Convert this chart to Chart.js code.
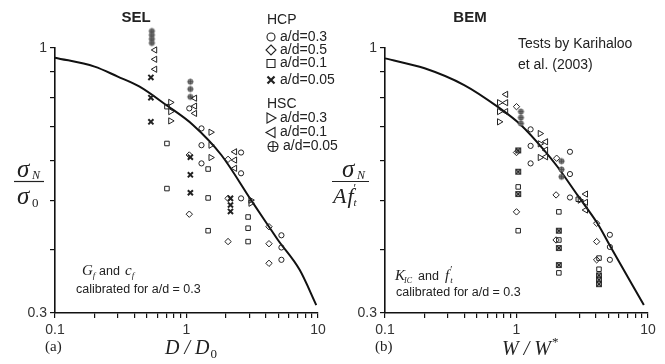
<!DOCTYPE html>
<html>
<head>
<meta charset="utf-8">
<script src="https://cdn.jsdelivr.net/npm/chart.js@4.4.1/dist/chart.umd.min.js"></script>
<style>
  html, body { margin: 0; padding: 0; background: #fff; }
  #wrap { position: relative; width: 665px; height: 364px; overflow: hidden; }
  canvas { position: absolute; top: 0; }
</style>
</head>
<body>
<div id="wrap">
  <canvas id="sel" width="345" height="364" style="left:0px"></canvas>
  <canvas id="bem" width="333" height="364" style="left:332px"></canvas>
</div>
<script>
// axis ticks (shared by both panels)
const xTickValues = [0.1, 0.2, 0.3, 0.4, 0.5, 0.6, 0.7, 0.8, 0.9, 1, 2, 3, 4, 5, 6, 7, 8, 9, 10];
const xTickLabels = ['0.1', '', '', '', '', '', '', '', '', '1', '', '', '', '', '', '', '', '', '10'];
const yTickValues = [0.3, 0.4, 0.5, 0.6, 0.7, 0.8, 0.9, 1];
const yTickLabels = ['0.3', '', '', '', '', '', '', '1'];

// (a) SEL : x = D/D0, y = sigmaN/sigma0
const selCurve = [[0.1, 0.957], [0.2, 0.919], [0.3, 0.878], [0.44, 0.839], [0.7, 0.772], [1.12, 0.705],
  [1.84, 0.615], [3.1, 0.501], [4.24, 0.444], [4.96, 0.418], [7.25, 0.365], [9.7, 0.311]];
const selHcp03 = [[1.05, 0.760], [1.30, 0.694], [1.30, 0.643], [1.30, 0.592], [2.6, 0.622], [2.6, 0.566],
  [2.6, 0.505], [5.27, 0.427], [5.27, 0.404], [5.27, 0.382]];
const selHcp05 = [[1.05, 0.615], [1.05, 0.470], [2.07, 0.603], [2.07, 0.505], [2.07, 0.415],
  [4.24, 0.444], [4.24, 0.411], [4.24, 0.376]];
const selHcp01 = [[0.71, 0.766], [0.71, 0.648], [0.71, 0.528], [1.46, 0.577], [1.46, 0.506], [1.46, 0.436],
  [2.94, 0.464], [2.94, 0.441], [2.94, 0.415]];
const selHcp005 = [[0.536, 0.875], [0.536, 0.798], [0.536, 0.715], [1.07, 0.609], [1.07, 0.562], [1.07, 0.518],
  [2.16, 0.505], [2.16, 0.490], [2.16, 0.476]];
const selHsc03 = [[0.756, 0.781], [0.756, 0.749], [0.756, 0.718], [1.53, 0.682], [1.53, 0.643], [1.53, 0.608],
  [3.08, 0.501], [3.08, 0.494]];
const selHsc01 = [[0.575, 0.991], [0.575, 0.950], [0.575, 0.908], [1.156, 0.796], [1.156, 0.768], [1.156, 0.743],
  [2.33, 0.624], [2.33, 0.601], [2.33, 0.579]];
const selHsc005 = [[0.545, 1.080], [0.545, 1.061], [0.545, 1.042], [0.545, 1.023], [1.07, 0.858], [1.07, 0.830],
  [1.07, 0.801]];

// (b) BEM : x = W/W*, y = sigmaN/(A f't)
const bemCurve = [[0.1, 0.954], [0.2, 0.912], [0.4, 0.845], [0.717, 0.766], [1.08, 0.705], [1.62, 0.629],
  [2.05, 0.583], [2.9, 0.513], [4.12, 0.451], [5.2, 0.405], [9.3, 0.311]];
const bemHcp03 = [[1.28, 0.691], [1.28, 0.641], [1.28, 0.592], [2.55, 0.624], [2.55, 0.564], [2.55, 0.507],
  [5.13, 0.428], [5.13, 0.405], [5.13, 0.382]];
const bemHcp05 = [[1.0, 0.766], [1.0, 0.622], [1.0, 0.475], [2.02, 0.606], [2.0, 0.513], [2.0, 0.418],
  [4.07, 0.451], [4.07, 0.415], [4.07, 0.382]];
const bemHcp01 = [[1.03, 0.532], [1.03, 0.436], [2.1, 0.475], [2.1, 0.418], [2.1, 0.360], [4.24, 0.385],
  [4.24, 0.366], [2.95, 0.503]];
const bemHcp005 = [[1.03, 0.628], [1.03, 0.570], [1.03, 0.515], [2.1, 0.436], [2.1, 0.403], [2.1, 0.373],
  [4.24, 0.356], [4.24, 0.349], [4.24, 0.342]];
const bemHsc03 = [[0.74, 0.780], [0.74, 0.749], [0.74, 0.715], [1.51, 0.678], [1.51, 0.647], [1.51, 0.608],
  [3.04, 0.501]];
const bemHsc01 = [[0.83, 0.810], [0.83, 0.780], [0.83, 0.749], [1.67, 0.653], [1.67, 0.629], [1.67, 0.610],
  [3.36, 0.515], [3.36, 0.496], [3.36, 0.479]];
const bemHsc005 = [[1.08, 0.749], [1.08, 0.729], [1.08, 0.710], [2.2, 0.598], [2.2, 0.576], [2.2, 0.557]];

const SANS = '"Liberation Sans", Arial, sans-serif';
const SERIF = '"Liberation Serif", "Times New Roman", serif';
const INK = '#222';

// little marker pictures for the odd symbols
function circlePlusImage(r, fill, stroke, lw) {
  const c = document.createElement('canvas');
  const s = Math.ceil(2 * r + 3);
  c.width = c.height = s;
  const g = c.getContext('2d');
  const m = s / 2;
  g.lineWidth = lw;
  g.strokeStyle = stroke;
  g.beginPath(); g.arc(m, m, r, 0, 2 * Math.PI);
  if (fill) { g.fillStyle = fill; g.fill(); }
  g.stroke();
  g.beginPath();
  g.moveTo(m - r, m); g.lineTo(m + r, m);
  g.moveTo(m, m - r); g.lineTo(m, m + r);
  g.stroke();
  return c;
}
function boxCrossImage(h) {
  const c = document.createElement('canvas');
  const s = Math.ceil(2 * h + 3);
  c.width = c.height = s;
  const g = c.getContext('2d');
  const m = s / 2;
  g.fillStyle = '#9a9a9a';
  g.fillRect(m - h, m - h, 2 * h, 2 * h);
  g.strokeStyle = '#222';
  g.lineWidth = 1;
  g.strokeRect(m - h, m - h, 2 * h, 2 * h);
  g.beginPath();
  g.moveTo(m - h, m - h); g.lineTo(m + h, m + h);
  g.moveTo(m + h, m - h); g.lineTo(m - h, m + h);
  g.stroke();
  return c;
}
const greyDot = circlePlusImage(2.6, '#808080', '#4a4a4a', 0.8);
const boxCross = boxCrossImage(2.4);

function pts(arr) { return arr.map(([x, y]) => ({ x, y })); }
function marks(arr, style, extra) {
  return Object.assign({
    data: pts(arr), showLine: false, pointStyle: style, pointRadius: 3,
    pointBorderColor: INK, pointBackgroundColor: 'rgba(0,0,0,0)', pointBorderWidth: 1, clip: false
  }, extra || {});
}
function curve(arr) {
  return {
    data: pts(arr), showLine: true, borderColor: '#111', borderWidth: 2, pointRadius: 0,
    cubicInterpolationMode: 'monotone', clip: false
  };
}

// let points above y = 1 still be drawn (the axis itself stops at 1)
const overflowPlugin = {
  id: 'overflow',
  beforeDatasetsDraw(chart) { chart.chartArea.top -= 30; },
  afterDatasetsDraw(chart) { chart.chartArea.top += 30; }
};

function txt(ctx, s, x, y, font, align) {
  ctx.font = font;
  ctx.textAlign = align || 'left';
  ctx.textBaseline = 'middle';
  ctx.fillStyle = INK;
  ctx.fillText(s, x, y);
  return ctx.measureText(s).width;
}

function legendMark(ctx, kind, x, y) {
  ctx.save();
  ctx.strokeStyle = INK;
  ctx.lineWidth = 1.1;
  ctx.beginPath();
  if (kind === 'circle') ctx.arc(x, y, 4, 0, 2 * Math.PI);
  if (kind === 'diamond') { ctx.moveTo(x, y - 5); ctx.lineTo(x + 5, y); ctx.lineTo(x, y + 5); ctx.lineTo(x - 5, y); ctx.closePath(); }
  if (kind === 'square') ctx.rect(x - 4, y - 4, 8, 8);
  if (kind === 'cross') { ctx.lineWidth = 2.2; ctx.moveTo(x - 3.5, y - 3.5); ctx.lineTo(x + 3.5, y + 3.5); ctx.moveTo(x + 3.5, y - 3.5); ctx.lineTo(x - 3.5, y + 3.5); }
  if (kind === 'right') { ctx.moveTo(x - 4, y - 5); ctx.lineTo(x + 5, y); ctx.lineTo(x - 4, y + 5); ctx.closePath(); }
  if (kind === 'left') { ctx.moveTo(x + 4, y - 5); ctx.lineTo(x - 5, y); ctx.lineTo(x + 4, y + 5); ctx.closePath(); }
  if (kind === 'oplus') { ctx.arc(x, y, 5, 0, 2 * Math.PI); ctx.moveTo(x - 5, y); ctx.lineTo(x + 5, y); ctx.moveTo(x, y - 5); ctx.lineTo(x, y + 5); }
  ctx.stroke();
  ctx.restore();
}

function scales(yWidth) {
  const tickFont = { family: SANS, size: 14 };
  return {
    x: {
      type: 'logarithmic', min: 0.1, max: 10, position: 'bottom',
      afterBuildTicks: s => { s.ticks = xTickValues.map(v => ({ value: v })); },
      afterFit: s => { s.height = 51; s.paddingLeft = 0; s.paddingRight = 0; },
      grid: { drawOnChartArea: false, drawTicks: true, tickLength: 5, color: '#111', lineWidth: 1.2 },
      border: { display: true, color: '#111', width: 1.6 },
      ticks: { autoSkip: false, maxRotation: 0, padding: 4, color: '#333', font: tickFont,
        callback: (v, i) => xTickLabels[i] }
    },
    y: {
      type: 'logarithmic', min: 0.3, max: 1, position: 'left',
      afterBuildTicks: s => { s.ticks = yTickValues.map(v => ({ value: v })); },
      afterFit: s => { s.width = yWidth; s.paddingTop = 0; s.paddingBottom = 0; },
      grid: { drawOnChartArea: false, drawTicks: true, tickLength: 5, color: '#111', lineWidth: 1.2 },
      border: { display: true, color: '#111', width: 1.6 },
      ticks: { autoSkip: false, padding: 3, color: '#333', font: tickFont,
        callback: (v, i) => yTickLabels[i] }
    }
  };
}

function baseOptions(yWidth, rightPad) {
  return {
    responsive: false, animation: false, events: [],
    layout: { padding: { top: 48, right: rightPad, bottom: 0, left: 0 } },
    plugins: { legend: { display: false }, tooltip: { enabled: false } },
    scales: scales(yWidth)
  };
}

// ---------- (a) SEL ----------
new Chart(document.getElementById('sel'), {
  type: 'scatter',
  data: {
    datasets: [
      marks(selHcp03, 'circle', { pointRadius: 2.6 }),
      marks(selHcp05, 'rectRot', { pointRadius: 3.2 }),
      marks(selHcp01, 'rect', { pointRadius: 3.2 }),
      marks(selHcp005, 'crossRot', { pointRadius: 3.6, pointBorderWidth: 2 }),
      marks(selHsc03, 'triangle', { pointRadius: 3.6, pointRotation: 90 }),
      marks(selHsc01, 'triangle', { pointRadius: 3.6, pointRotation: 270 }),
      marks(selHsc005, greyDot),
      curve(selCurve)
    ]
  },
  options: baseOptions(55, 27),
  plugins: [overflowPlugin, {
    id: 'selNotes',
    afterDraw(chart) {
      const ctx = chart.ctx;
      ctx.save();
      txt(ctx, 'SEL', 136, 18, 'bold 15px ' + SANS, 'center');
      const lf = '14px ' + SANS;
      txt(ctx, 'HCP', 267, 20, lf);
      legendMark(ctx, 'circle', 271, 37); txt(ctx, 'a/d=0.3', 280, 37, lf);
      legendMark(ctx, 'diamond', 271, 50); txt(ctx, 'a/d=0.5', 280, 50, lf);
      legendMark(ctx, 'square', 271, 63.5); txt(ctx, 'a/d=0.1', 280, 63.5, lf);
      legendMark(ctx, 'cross', 271, 80); txt(ctx, 'a/d=0.05', 280, 80, lf);
      txt(ctx, 'HSC', 267, 104, lf);
      legendMark(ctx, 'right', 271, 118); txt(ctx, 'a/d=0.3', 280, 118, lf);
      legendMark(ctx, 'left', 271, 132.5); txt(ctx, 'a/d=0.1', 280, 132.5, lf);
      legendMark(ctx, 'oplus', 273, 146.5); txt(ctx, 'a/d=0.05', 283, 146.5, lf);
      // y title  sigma_N / sigma_0
      txt(ctx, 'σ', 17, 170, 'italic 25px ' + SERIF);
      txt(ctx, 'N', 32, 176, 'italic 12px ' + SERIF);
      ctx.strokeStyle = INK; ctx.lineWidth = 1.2;
      ctx.beginPath(); ctx.moveTo(14, 181.5); ctx.lineTo(44, 181.5); ctx.stroke();
      txt(ctx, 'σ', 17, 197, 'italic 25px ' + SERIF);
      txt(ctx, '0', 32, 204, '13px ' + SERIF);
      // x title
      txt(ctx, '(a)', 45, 347, '15px ' + SERIF);
      const w = txt(ctx, 'D / D', 165, 349, 'italic 20px ' + SERIF);
      txt(ctx, '0', 165 + w + 1, 355, '13px ' + SERIF);
      // calibration note
      let x = 82;
      x += txt(ctx, 'G', x, 271, 'italic 15px ' + SERIF);
      txt(ctx, 'f', x, 276, 'italic 9px ' + SERIF);
      txt(ctx, 'and', 99, 272, '12.5px ' + SANS);
      x = 125;
      x += txt(ctx, 'c', x, 271, 'italic 15px ' + SERIF);
      txt(ctx, 'f', x, 276, 'italic 9px ' + SERIF);
      txt(ctx, 'calibrated for a/d = 0.3', 76, 290, '12.5px ' + SANS);
      ctx.restore();
    }
  }]
});

// ---------- (b) BEM ----------
new Chart(document.getElementById('bem'), {
  type: 'scatter',
  data: {
    datasets: [
      marks(bemHcp03, 'circle', { pointRadius: 2.6 }),
      marks(bemHcp05, 'rectRot', { pointRadius: 3.2 }),
      marks(bemHcp01, 'rect', { pointRadius: 3.2 }),
      marks(bemHcp005, boxCross),
      marks(bemHsc03, 'triangle', { pointRadius: 3.6, pointRotation: 90 }),
      marks(bemHsc01, 'triangle', { pointRadius: 3.6, pointRotation: 270 }),
      marks(bemHsc005, greyDot),
      curve(bemCurve)
    ]
  },
  options: baseOptions(53, 17),
  plugins: [overflowPlugin, {
    id: 'bemNotes',
    afterDraw(chart) {
      const ctx = chart.ctx;
      ctx.save();
      txt(ctx, 'BEM', 138, 18, 'bold 15px ' + SANS, 'center');
      txt(ctx, 'Tests by Karihaloo', 186, 44, '14px ' + SANS);
      txt(ctx, 'et al. (2003)', 186, 65, '14px ' + SANS);
      // y title  sigma_N / (A f't)
      txt(ctx, 'σ', 10, 170, 'italic 25px ' + SERIF);
      txt(ctx, 'N', 25, 176, 'italic 12px ' + SERIF);
      ctx.strokeStyle = INK; ctx.lineWidth = 1.2;
      ctx.beginPath(); ctx.moveTo(0, 181.5); ctx.lineTo(37, 181.5); ctx.stroke();
      let x = 1;
      x += txt(ctx, 'A', x, 197, 'italic 22px ' + SERIF);
      x += txt(ctx, 'f', x + 1, 197, 'italic 22px ' + SERIF);
      txt(ctx, '\u2032', x + 1, 189, '12px ' + SERIF);
      txt(ctx, 't', x + 1, 203, 'italic 11px ' + SERIF);
      // x title
      txt(ctx, '(b)', 43, 347, '15px ' + SERIF);
      const w = txt(ctx, 'W / W', 170, 350, 'italic 20px ' + SERIF);
      txt(ctx, '*', 170 + w + 1, 343, '13px ' + SERIF);
      // calibration note
      x = 63;
      x += txt(ctx, 'K', x, 276, 'italic 15px ' + SERIF);
      txt(ctx, 'IC', x - 1, 281, 'italic 8px ' + SERIF);
      txt(ctx, 'and', 86, 277, '12.5px ' + SANS);
      x = 113;
      x += txt(ctx, 'f', x, 276, 'italic 15px ' + SERIF);
      txt(ctx, '\u2032', x + 1, 270, '10px ' + SERIF);
      txt(ctx, 't', x + 1, 281, 'italic 9px ' + SERIF);
      txt(ctx, 'calibrated for a/d = 0.3', 64, 293, '12.5px ' + SANS);
      ctx.restore();
    }
  }]
});
</script>
</body>
</html>
